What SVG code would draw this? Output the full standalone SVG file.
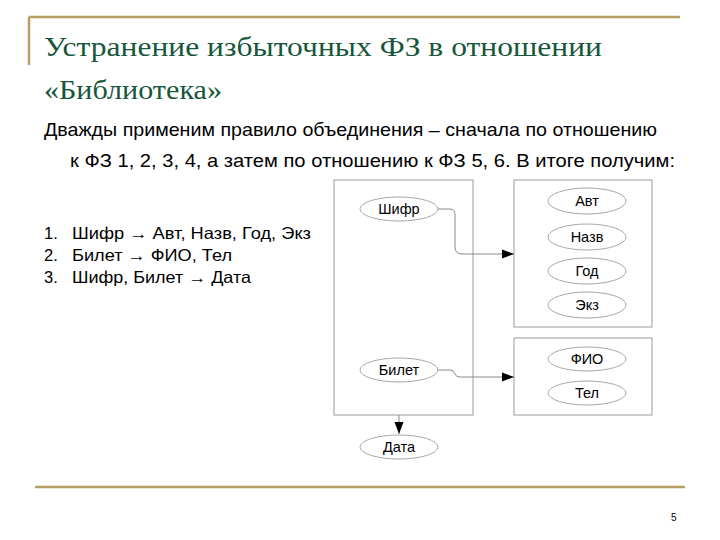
<svg xmlns="http://www.w3.org/2000/svg" width="720" height="540" viewBox="0 0 720 540">
<defs>
<style>
.title{font-family:"Liberation Serif","Times New Roman",serif;font-size:28px;fill:#17573b}
.body{font-family:"Liberation Sans Narrow","Liberation Sans",Arial,sans-serif;font-size:19px;fill:#000}
.list{font-family:"Liberation Sans",Arial,sans-serif;font-size:16.5px;fill:#000}
.box{fill:#fff;stroke:#9a9a9a;stroke-width:1}
.ell{fill:#fff;stroke:#a8a8a8;stroke-width:1}
.lbl{font-family:"Liberation Sans",Arial,sans-serif;font-size:14.5px;fill:#000;text-anchor:middle}
.gold{stroke:#b8a060;stroke-width:2.5;fill:none}
.conn{fill:none;stroke:#8a8a8a;stroke-width:1}
</style>
<marker id="arr" viewBox="0 0 12 10" refX="12" refY="5" markerWidth="12" markerHeight="10" markerUnits="userSpaceOnUse" orient="auto">
<path d="M0,0.5 L12,5 L0,9.5 Z" fill="#000"/>
</marker>
</defs>
<rect width="720" height="540" fill="#fff"/>
<g id="frame">
<line class="gold" x1="29" y1="17" x2="680" y2="17"/>
<line class="gold" x1="29" y1="17" x2="29" y2="65"/>
<line class="gold" x1="35" y1="487" x2="685" y2="487"/>
<text x="671" y="521" font-family="Liberation Sans,Arial,sans-serif" font-size="10" fill="#000">5</text>
</g>
<g id="title">
<text class="title" x="44" y="56" textLength="558" lengthAdjust="spacingAndGlyphs">Устранение избыточных ФЗ в отношении</text>
<text class="title" x="44" y="99" textLength="178" lengthAdjust="spacingAndGlyphs">«Библиотека»</text>
</g>
<g id="bodytext">
<text class="body" x="44" y="136" textLength="613" lengthAdjust="spacingAndGlyphs">Дважды применим правило объединения – сначала по отношению</text>
<text class="body" x="70" y="167" textLength="605" lengthAdjust="spacingAndGlyphs">к ФЗ 1, 2, 3, 4, а затем по отношению к ФЗ 5, 6. В итоге получим:</text>
</g>
<g id="list">
<text class="list" x="44" y="239">1.</text><text class="list" x="72" y="239" textLength="239" lengthAdjust="spacingAndGlyphs">Шифр → Авт, Назв, Год, Экз</text>
<text class="list" x="44" y="261">2.</text><text class="list" x="72" y="261" textLength="160" lengthAdjust="spacingAndGlyphs">Билет → ФИО, Тел</text>
<text class="list" x="44" y="283">3.</text><text class="list" x="72" y="283" textLength="179" lengthAdjust="spacingAndGlyphs">Шифр, Билет → Дата</text>
</g>
<g id="box-left"><rect class="box" x="334" y="180" width="139" height="235"/></g>
<g id="box-right-top"><rect class="box" x="514" y="180" width="138" height="147"/></g>
<g id="box-right-bottom"><rect class="box" x="514" y="338" width="138" height="77"/></g>
<g id="connectors">
<path class="conn" d="M438,209 H450 Q455,209 455,215 V247 Q455,254 462,254 H514" marker-end="url(#arr)"/>
<path class="conn" d="M438,370 H450 Q454,370 455,374 Q456,377 460,377 H514" marker-end="url(#arr)"/>
<path class="conn" d="M399,415 V434" marker-end="url(#arr)"/>
</g>
<g id="node-shifr"><ellipse class="ell" cx="399" cy="209" rx="39" ry="12"/><text class="lbl" x="399" y="214">Шифр</text></g>
<g id="node-bilet"><ellipse class="ell" cx="399" cy="370" rx="39" ry="12"/><text class="lbl" x="399" y="375">Билет</text></g>
<g id="node-data"><ellipse class="ell" cx="399" cy="447" rx="39" ry="12"/><text class="lbl" x="399" y="452">Дата</text></g>
<g id="node-avt"><ellipse class="ell" cx="587" cy="201" rx="39" ry="13"/><text class="lbl" x="587" y="206">Авт</text></g>
<g id="node-nazv"><ellipse class="ell" cx="587" cy="237" rx="39" ry="13"/><text class="lbl" x="587" y="242">Назв</text></g>
<g id="node-god"><ellipse class="ell" cx="587" cy="271" rx="39" ry="13"/><text class="lbl" x="587" y="276">Год</text></g>
<g id="node-ekz"><ellipse class="ell" cx="587" cy="305" rx="39" ry="13"/><text class="lbl" x="587" y="310">Экз</text></g>
<g id="node-fio"><ellipse class="ell" cx="587" cy="359" rx="39" ry="12"/><text class="lbl" x="587" y="364">ФИО</text></g>
<g id="node-tel"><ellipse class="ell" cx="587" cy="393" rx="39" ry="12"/><text class="lbl" x="587" y="398">Тел</text></g>
</svg>
